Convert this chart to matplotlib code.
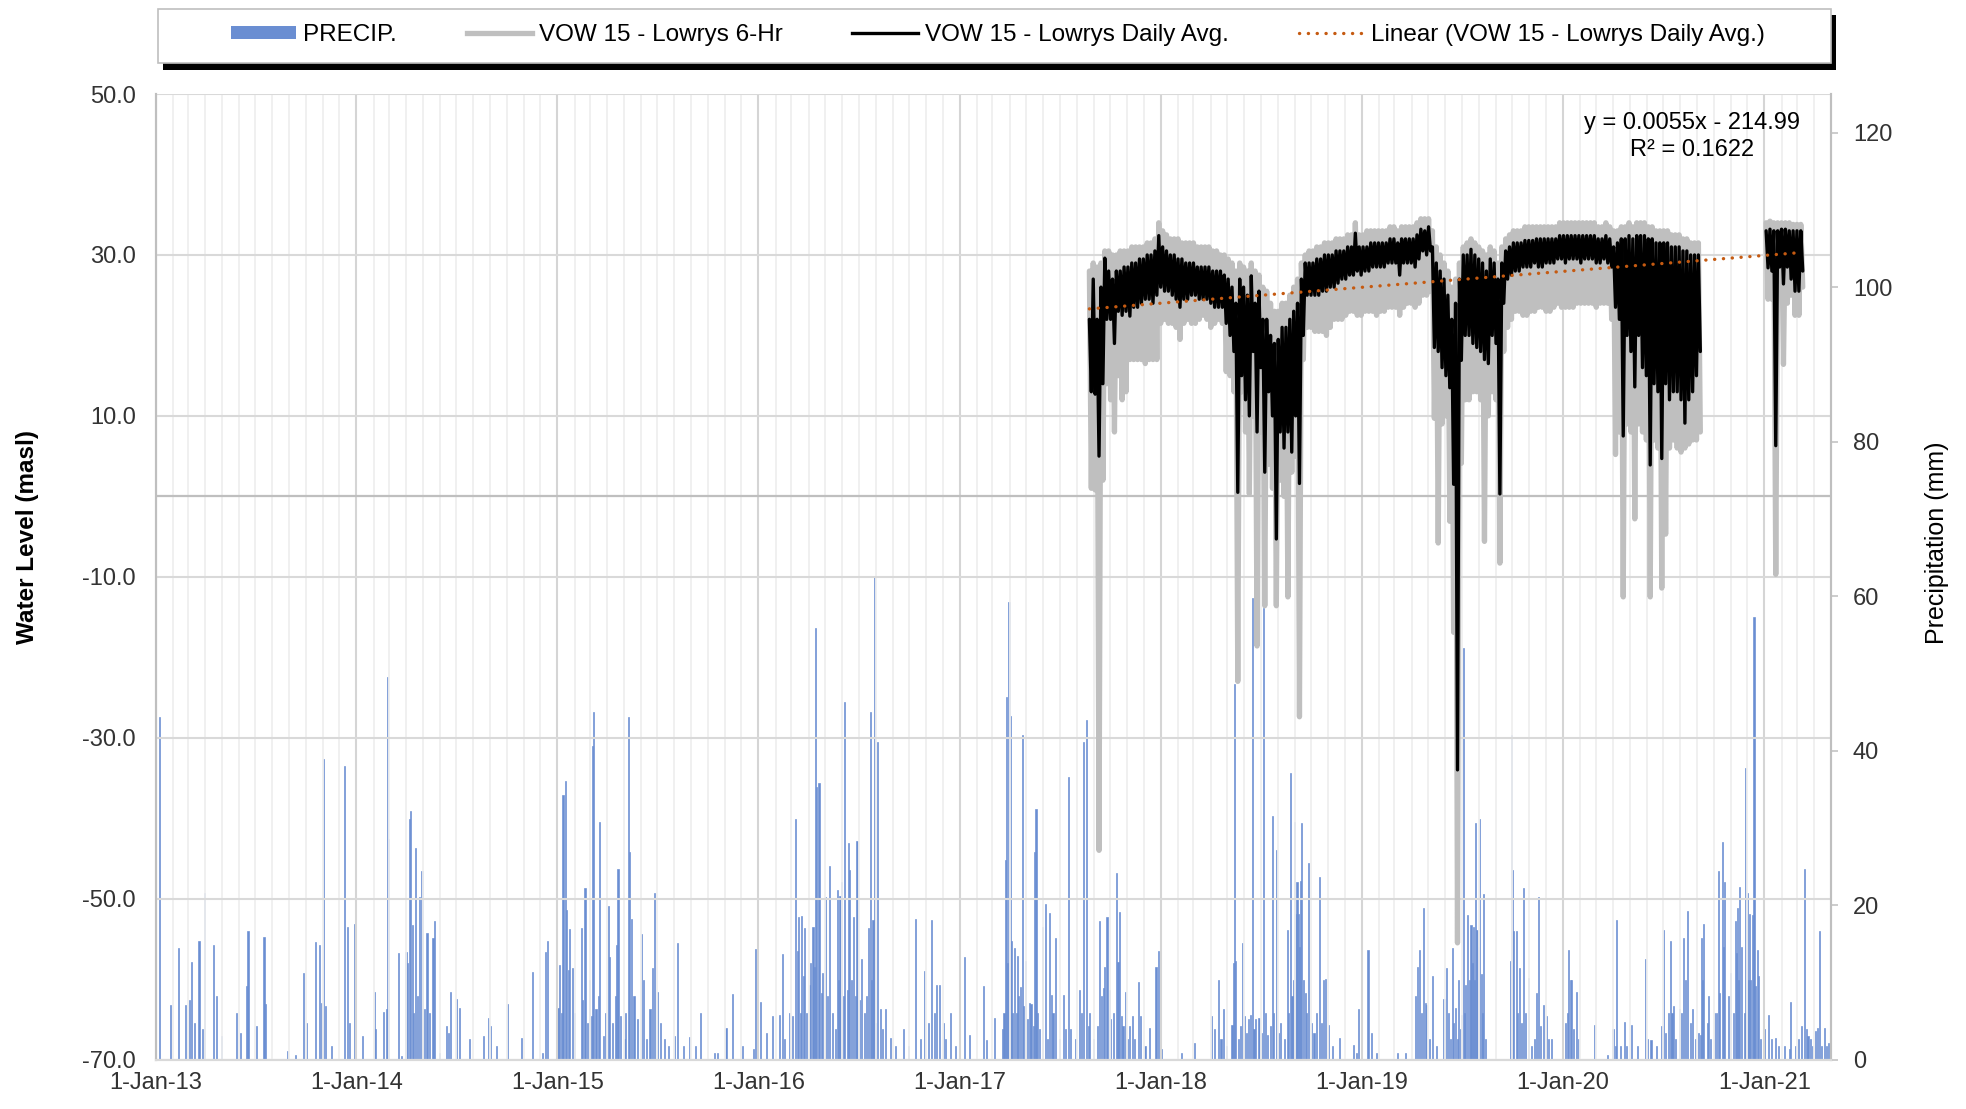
import matplotlib
matplotlib.use("Agg")
import matplotlib.pyplot as plt
import matplotlib.dates as mdates
from matplotlib.patches import Rectangle, Patch
from matplotlib.lines import Line2D
from matplotlib.ticker import FuncFormatter, FormatStrFormatter
import numpy as np
import pandas as pd

plt.rcParams['font.family'] = ['Liberation Sans', 'DejaVu Sans']

# ---- data ----
# precipitation: day number counted from 1-Jan-2013, daily total (mm)
precip_day = [
    8, 27, 42, 55, 61, 66, 71, 79, 85, 89, 105, 111, 120, 147, 154, 165, 168, 184, 197, 200,
    240, 255, 269, 274, 291, 298, 302, 305, 308, 319, 343, 348, 353, 361, 376, 397, 400, 414, 420, 422,
    423, 441, 446, 455, 458, 461, 463, 466, 469, 472, 476, 480, 484, 488, 493, 498, 504, 507, 515, 528,
    532, 535, 546, 552, 570, 596, 605, 609, 619, 639, 664, 685, 702, 709, 712, 731, 734, 737, 740, 744,
    747, 750, 752, 757, 761, 774, 776, 780, 785, 788, 791, 793, 796, 800, 804, 807, 813, 817, 822, 824,
    830, 835, 838, 840, 845, 851, 854, 859, 861, 864, 869, 875, 883, 886, 892, 898, 903, 907, 911, 917,
    924, 932, 942, 948, 959, 970, 980, 990, 1015, 1021, 1036, 1048, 1066, 1086, 1090, 1094, 1099, 1109, 1120, 1133,
    1138, 1143, 1151, 1157, 1162, 1166, 1168, 1171, 1173, 1176, 1179, 1182, 1187, 1190, 1194, 1196, 1199, 1201, 1205, 1209,
    1212, 1216, 1221, 1224, 1229, 1235, 1238, 1241, 1243, 1246, 1249, 1252, 1256, 1259, 1261, 1264, 1267, 1271, 1274, 1278,
    1282, 1287, 1291, 1295, 1298, 1300, 1303, 1306, 1308, 1311, 1316, 1320, 1326, 1334, 1344, 1358, 1368, 1381, 1389, 1397,
    1403, 1410, 1414, 1418, 1424, 1431, 1435, 1443, 1453,
    1470, 1478, 1503, 1509, 1523, 1538, 1541, 1543, 1546, 1548, 1550, 1552, 1555, 1557, 1560, 1563, 1565, 1568, 1571, 1574,
    1577, 1580, 1584, 1587, 1590, 1595, 1597, 1599, 1601, 1606, 1611, 1616, 1620, 1624, 1627, 1630, 1634, 1641, 1649, 1653,
    1658, 1662, 1670, 1678, 1682, 1686, 1691, 1694, 1697, 1703, 1710, 1715, 1718, 1721, 1724, 1728, 1732, 1735, 1740, 1745,
    1748, 1751, 1754, 1757, 1761, 1765, 1769, 1774, 1778, 1785, 1789, 1797, 1805, 1817, 1822, 1826, 1864, 1887, 1918, 1924,
    1930, 1935, 1939, 1945, 1955, 1958, 1960, 1962, 1966, 1971, 1974, 1977, 1982, 1985, 1988, 1992, 1995, 1997, 2004, 2008,
    2012, 2016, 2019, 2025, 2028, 2031, 2035, 2039, 2043, 2050, 2055, 2058, 2061, 2064, 2066, 2068, 2070, 2073, 2075, 2077,
    2080, 2082, 2085, 2088, 2091, 2094, 2099, 2104, 2108, 2114, 2117, 2121, 2124, 2130, 2138, 2151, 2175, 2181, 2185, 2202,
    2208, 2217, 2256, 2270, 2288, 2292, 2296, 2299, 2302, 2306, 2309, 2314, 2319, 2326, 2340, 2344, 2348, 2352, 2355, 2358,
    2361, 2364, 2367, 2370, 2372, 2375, 2377, 2379, 2382, 2386, 2389, 2391, 2393, 2395, 2397, 2400, 2402, 2404, 2408, 2410,
    2412, 2415, 2460, 2462, 2464, 2467, 2471, 2474, 2477, 2481, 2484, 2488, 2494, 2499, 2505, 2508, 2511, 2515, 2520, 2526,
    2530, 2535, 2561, 2564, 2566, 2569, 2571, 2576, 2580, 2584, 2613, 2637, 2647, 2651, 2654, 2660, 2667, 2672, 2681, 2692,
    2706, 2710, 2716, 2726, 2736, 2739, 2743, 2747, 2751, 2754, 2757, 2761, 2768, 2772, 2775, 2779, 2783, 2787, 2791, 2797,
    2802, 2806, 2808, 2810, 2812, 2818, 2821, 2824, 2832, 2835, 2838, 2841, 2846, 2848, 2850, 2856, 2861, 2865, 2869, 2871,
    2873, 2875, 2877, 2881, 2885, 2888, 2891, 2893, 2895, 2897, 2900, 2903, 2905, 2909, 2911, 2915, 2922, 2929, 2935, 2942,
    2947, 2958, 2967, 2970, 2978, 2984, 2989, 2994, 2998, 3001, 3006, 3010, 3015, 3018, 3022, 3026, 3031, 3035, 3039,
]
precip_mm = [
    44.3, 7.0, 14.4, 7.1, 7.7, 12.6, 4.7, 15.4, 3.9, 21.5, 14.8, 8.2, 3.0, 6.0, 3.4, 9.5, 16.7, 4.4, 15.8, 7.2,
    1.1, 0.6, 11.2, 4.7, 15.2, 14.8, 7.3, 38.9, 6.9, 1.7, 38.0, 17.2, 4.7, 17.6, 3.0, 8.8, 3.9, 6.2, 6.5, 49.5,
    28.6, 13.8, 0.4, 13.9, 12.5, 31.1, 32.2, 17.4, 6.0, 27.4, 8.2, 21.1, 24.4, 6.5, 16.4, 6.0, 15.7, 18.0, 0.9, 4.3,
    3.4, 8.8, 7.9, 6.7, 2.6, 3.0, 5.4, 4.3, 1.7, 7.2, 2.8, 11.3, 0.9, 13.9, 15.4, 6.7, 12.3, 6.0, 34.3, 36.1,
    19.4, 11.6, 16.9, 11.9, 6.0, 17.0, 7.7, 22.2, 4.7, 10.3, 5.6, 40.6, 45.0, 6.5, 8.2, 30.8, 3.0, 6.0, 19.9, 13.3,
    4.7, 8.2, 14.8, 24.7, 5.6, 2.6, 6.0, 44.3, 26.9, 18.2, 8.2, 5.2, 16.3, 10.3, 2.6, 6.5, 11.8, 21.5, 8.8, 4.7,
    2.6, 1.7, 3.0, 15.1, 1.7, 2.9, 1.7, 6.0, 0.9, 0.9, 4.1, 8.5, 1.7, 1.3, 14.3, 7.7, 7.5, 3.4, 5.6, 5.8,
    13.7, 2.6, 6.0, 5.6, 31.1, 14.0, 18.5, 6.0, 18.6, 10.8, 17.0, 6.0, 9.6, 12.5, 17.2, 12.0, 55.9, 35.3, 35.8, 8.6,
    11.2, 21.1, 8.2, 25.0, 6.0, 3.9, 21.9, 10.3, 21.2, 23.0, 8.2, 46.3, 9.0, 28.0, 24.6, 10.3, 18.5, 8.2, 28.3, 7.7,
    13.0, 6.0, 8.2, 17.0, 45.0, 10.3, 18.1, 62.5, 4.7, 41.1, 6.5, 3.9, 6.5, 2.8, 1.7, 3.9, 1.7, 18.2, 2.6, 11.4,
    4.7, 18.1, 6.0, 9.7, 9.7, 4.7, 2.6, 6.0, 1.7,
    13.3, 3.2, 9.5, 2.5, 5.4, 3.9, 6.0, 25.8, 46.9, 12.5, 59.3, 44.5, 15.3, 6.0, 14.4, 6.0, 13.4, 8.2, 9.4, 42.0,
    6.9, 12.8, 5.2, 7.3, 7.2, 4.3, 26.9, 32.5, 6.0, 3.9, 17.2, 20.2, 2.6, 19.0, 8.4, 6.0, 15.7, 2.6, 8.4, 3.9,
    36.6, 3.9, 2.6, 9.0, 6.0, 41.1, 43.9, 4.3, 6.0, 2.6, 4.3, 18.0, 8.2, 9.3, 12.0, 18.4, 9.0, 5.2, 6.0, 24.1,
    12.6, 19.1, 5.6, 4.3, 8.8, 2.6, 4.3, 5.6, 2.6, 10.1, 5.6, 1.7, 4.1, 12.0, 14.0, 1.3, 0.9, 2.2, 5.6, 3.9,
    10.3, 2.6, 6.5, 1.7, 4.5, 12.5, 48.6, 12.7, 2.6, 4.3, 15.1, 5.6, 3.4, 5.2, 5.8, 59.7, 3.9, 5.2, 5.4, 3.4,
    58.4, 6.0, 3.2, 4.3, 31.5, 6.0, 27.1, 3.4, 4.7, 2.6, 16.8, 6.0, 37.1, 8.2, 10.3, 30.8, 18.9, 23.0, 18.9, 14.6,
    23.1, 30.6, 10.3, 8.6, 6.0, 25.5, 4.7, 3.4, 6.0, 23.6, 4.7, 10.3, 10.4, 4.5, 1.7, 2.8, 1.9, 0.9, 6.5, 14.2,
    3.4, 0.9, 0.9, 0.9, 8.2, 12.0, 14.2, 6.0, 19.6, 7.3, 7.1, 2.6, 10.8, 1.7, 7.8, 11.8, 6.0, 2.6, 14.4, 4.7,
    6.7, 2.6, 10.3, 3.9, 5.8, 53.3, 6.0, 9.7, 18.7, 10.3, 17.4, 12.5, 17.2, 10.3, 30.6, 16.8, 14.6, 31.1, 11.1, 6.0,
    21.4, 2.6, 12.7, 42.0, 24.6, 16.6, 16.7, 6.0, 11.8, 4.7, 22.2, 6.0, 10.5, 1.7, 2.6, 8.6, 21.0, 4.3, 7.1, 5.6,
    2.6, 2.6, 4.7, 6.0, 14.2, 10.3, 10.3, 3.9, 8.7, 2.6, 4.5, 0.6, 4.0, 1.7, 18.1, 1.7, 4.9, 1.7, 4.5, 1.7,
    13.0, 2.6, 2.5, 1.7, 4.3, 16.8, 3.4, 6.0, 15.3, 6.0, 6.9, 2.6, 6.5, 6.0, 15.7, 10.3, 19.2, 4.7, 6.5, 2.6,
    3.4, 3.2, 15.7, 10.3, 17.6, 4.7, 8.2, 2.6, 6.0, 6.0, 24.4, 8.6, 28.1, 14.6, 23.0, 8.2, 11.2, 6.0, 17.9, 13.8,
    19.6, 10.3, 22.4, 14.6, 6.0, 37.7, 21.5, 10.3, 18.9, 10.3, 18.7, 57.3, 9.5, 14.2, 10.8, 2.6, 3.9, 5.8, 2.6, 2.8,
    1.7, 1.7, 1.3, 7.5, 1.7, 2.6, 4.3, 24.7, 3.9, 3.0, 2.6, 1.7, 3.7, 4.1, 16.6, 1.7, 4.1, 1.7, 2.2,
]

# water level, weekly from 24-Aug-2017 to end-Aug-2020 (masl):
# highest and lowest reading of each week for both traces
avg_top_a = [
    22, 27, 22, 26, 29.6, 28, 27, 28, 28, 28.5,
    28.5, 29, 29, 29.5, 29.5, 30, 30, 30.5, 32.4, 31,
    30.5, 30, 30, 29.5, 29.5, 29, 29, 29, 28.5, 28.5,
    28.5, 28.5, 28, 28, 28, 27.5, 27, 26, 24, 27,
    26, 25, 27.4, 24, 25.5, 22, 22, 20, 19, 19.5,
    21, 21, 22, 23, 24, 27, 29, 29, 29, 29.5,
    29.5, 30, 30, 30, 30.5, 30.5, 30.5, 31, 31, 32.7,
    31, 31, 31, 31.5, 31.5, 31.5, 31.5, 31.5, 32, 32,
    31.5, 32, 32, 32, 32, 32.5, 33.2, 33, 33.5, 31,
    29, 28, 27, 25, 22, 24, 27, 30, 30, 30.7,
    30, 29.5, 29, 28, 29.5, 29, 27, 29, 30.5, 31,
    31.5, 31.5, 31.5, 31.8, 31.8, 31.8, 32, 32, 32, 32,
    32, 32, 32.4, 32.4, 32.4, 32.4, 32.4, 32.4, 32.4, 32.4,
    32.4, 32.4, 32, 32, 32.4, 32, 31, 31.5, 32, 32,
    32.4, 32, 32.4, 32.4, 32.4, 32, 32, 31.5, 31.5, 31.5,
    31.5, 31, 31, 31, 30.5, 30.5, 30, 30, 30,
]
avg_bottom_a = [
    13, 12.7, 5, 14, 22, 22, 19, 23, 22.5, 23,
    22.4, 23.5, 23.5, 24, 24.5, 24.5, 24, 25, 26, 25.5,
    25.5, 25, 24.5, 23.5, 24.5, 24.5, 25, 25, 24.5, 24.5,
    24.5, 24, 23.5, 23.5, 23.5, 21.5, 20, 18, 0.5, 15,
    12, 10, 18, 8, 16, 3, 13, 10, -5.3, 8,
    6, 8, 5.5, 10, 1.6, 20, 25, 25, 25, 25,
    25.5, 25.5, 26, 26, 26.5, 27, 27, 27.5, 27.5, 28,
    27.5, 28, 28, 28.5, 28.5, 28.5, 28.5, 29, 29, 29,
    27.5, 29, 29, 29, 28.5, 29.5, 30.5, 30, 30.5, 18.5,
    18, 16, 15, 13.5, 1.5, -34, 16.9, 20, 20, 19,
    18.5, 18, 17, 16.5, 20, 19, 0.3, 24, 27, 27.5,
    28, 28, 28.5, 28.5, 28.5, 29, 28.5, 28.5, 29, 29,
    29, 29.5, 29.5, 29, 29.5, 29.5, 29.5, 29, 29.5, 29.5,
    29.5, 29, 29, 29.5, 29, 28.5, 23.5, 22, 7.5, 20,
    18, 13.6, 20, 16, 15, 3.9, 14, 13, 4.7, 14,
    12, 13, 13, 12, 9.1, 12, 13, 15, 18,
]
six_hr_top_a = [
    28, 29, 28.5, 29, 30.5, 30.5, 30, 30, 30.5, 30.5,
    30.5, 31, 31, 31, 31, 31.5, 31.5, 32, 34, 33,
    32.5, 32, 32, 32, 31.5, 31.5, 31.5, 31.5, 31, 31,
    31, 31, 30.5, 30.5, 30, 30, 29.5, 29, 28, 29,
    28.5, 28, 29, 28, 27.5, 26, 25.5, 24, 23, 23,
    24, 24, 25, 26, 27, 29, 30, 30.5, 30.5, 31,
    31, 31.5, 31.5, 31.5, 32, 32, 32, 32.5, 32.5, 34,
    32.5, 32.5, 33, 33, 33, 33, 33, 33, 33.5, 33.5,
    33, 33.5, 33.5, 33.5, 33.5, 34, 34.5, 34.5, 34.5, 33,
    31, 30, 29, 28, 26, 27, 29, 31, 31.5, 32,
    31.5, 31, 30.5, 30, 31, 30.5, 29, 31, 32, 32.5,
    33, 33, 33, 33.5, 33.5, 33.5, 33.5, 33.5, 33.5, 33.5,
    33.5, 33.5, 34, 34, 34, 34, 34, 34, 34, 34,
    34, 34, 33.5, 33.5, 34, 33.5, 33, 33, 33.5, 33.5,
    34, 33.5, 34, 34, 34, 33.5, 33.5, 33, 33, 33,
    33, 32.5, 32.5, 32.5, 32, 32, 31.5, 31.5, 31.5,
]
six_hr_bottom_a = [
    1, 0.8, -44, 2, 14, 12, 8, 15, 12, 13,
    17, 17, 17, 17, 16.5, 17, 17, 17, 21.5, 22,
    21.5, 21.5, 21, 19.5, 21.5, 22, 21.5, 21.5, 22, 22.5,
    22, 21, 21.5, 22, 21.5, 15.5, 15, 13, -23, 13,
    8, 0.3, 10, -18.6, 8, -13.6, 4, 1, -13.6, 2,
    0, -12.5, 3, 5, -27.4, 17, 21, 21, 20.5, 20.5,
    20.5, 20, 21, 22, 22, 22, 22.5, 23, 23, 22.5,
    22.5, 23, 23, 23, 22.5, 23, 23, 23.5, 23.5, 23.5,
    22.5, 23.5, 24, 24, 23.5, 24, 25, 25, 25.5, 9.7,
    -5.8, 9, 10, -3.1, -16.9, -55.5, 4.1, 12, 12, 13,
    13, 12, -5.6, 10, 13, 12, -8.3, 18, 21, 22,
    23, 23, 22.5, 22.5, 23, 23, 23.5, 23.5, 23, 23,
    23.5, 24, 23.5, 23.5, 23.5, 23.5, 24, 24, 24, 24,
    24, 23.5, 24, 24, 24, 22, 5.2, 8, -12.5, 9,
    8, -2.8, 9, 8, 7, -12.5, 7, 6, -11.4, -4.7,
    6, 7, 6, 5.5, 6, 6.5, 7, 7, 8,
]
# second logger period, weekly from 4-Jan-2021
avg_top_b = [33, 33.2, 33, 33, 33.2, 33.2, 33, 33, 33, 33]
avg_bottom_b = [28.4, 28, 6.3, 28.5, 26.4, 28.5, 27, 25.5, 25.5, 28]
six_hr_top_b = [34, 34.2, 34, 34, 34, 34, 34, 33.8, 33.8, 33.8]
six_hr_bottom_b = [24.5, 24.5, -9.7, 25, 16.4, 24, 25, 22.5, 22.5, 26]

# Excel linear trendline end points (daily avg)
trend_dates = ['2017-08-24', '2021-03-08']
trend_values = [23.3, 30.3]


def weekly_trace(start, highs, lows):
    # each week: the high reading at the start, the low reading half a week later
    week = pd.date_range(start, periods=len(highs), freq='7D').to_numpy()
    x = np.empty(2 * len(highs), dtype='datetime64[ns]')
    x[0::2] = week
    x[1::2] = week + np.timedelta64(84, 'h')
    y = np.empty(2 * len(highs))
    y[0::2] = highs
    y[1::2] = lows
    return x, y


record_start = pd.Timestamp('2013-01-01')
precip_dates = (record_start + pd.to_timedelta(precip_day, unit='D')).to_numpy()
trend_x = pd.to_datetime(trend_dates).to_numpy()

BLUE = '#6A8ED2'
GRAY = '#BFBFBF'
ORANGE = '#C55A11'
TXT = '#333333'

fig = plt.figure(figsize=(19.66, 11.09), dpi=100)
ax = fig.add_axes([0.0791, 0.0446, 0.852, 0.8706])
ax2 = ax.twinx()
ax.set_zorder(ax2.get_zorder() + 1)
ax.patch.set_visible(False)

ax2.bar(precip_dates, precip_mm, width=2.0, color=BLUE, edgecolor=BLUE, linewidth=0.45)

dotted = (0, (0.05, 2.6))
for start, hi, lo in [('2017-08-24', six_hr_top_a, six_hr_bottom_a),
                      ('2021-01-04', six_hr_top_b, six_hr_bottom_b)]:
    x, y = weekly_trace(start, hi, lo)
    ax.plot(x, y, color=GRAY, lw=3.8, solid_joinstyle='round', solid_capstyle='round', zorder=3)
for start, hi, lo in [('2017-08-24', avg_top_a, avg_bottom_a),
                      ('2021-01-04', avg_top_b, avg_bottom_b)]:
    x, y = weekly_trace(start, hi, lo)
    ax.plot(x, y, color='black', lw=2.4, solid_joinstyle='round', solid_capstyle='round', zorder=4)
ax.plot(trend_x, trend_values, color=ORANGE, lw=2.4, linestyle=dotted,
        dash_capstyle='round', zorder=5)

ax.axhline(0, color='#BFBFBF', lw=1.6, zorder=2)

# axes / scales
ax.set_xlim(pd.Timestamp('2013-01-01'), pd.Timestamp('2021-05-01'))
ax.set_ylim(-70, 50)
ax2.set_ylim(0, 125)
ax.set_yticks(np.arange(-70, 51, 20))
ax.yaxis.set_major_formatter(FormatStrFormatter('%.1f'))
ax2.set_yticks(np.arange(0, 121, 20))

ax.xaxis.set_major_locator(mdates.YearLocator())
ax.xaxis.set_minor_locator(mdates.MonthLocator())
ax.xaxis.set_major_formatter(FuncFormatter(
    lambda x, pos: f"{mdates.num2date(x).day}-{mdates.num2date(x):%b-%y}"))

ax.set_axisbelow(True)
ax.grid(which='major', axis='x', color='#D5D5D5', lw=1.5)
ax.grid(which='minor', axis='x', color='#EFEFEF', lw=1.3)
ax.grid(which='major', axis='y', color='#D9D9D9', lw=1.5)

for a in (ax, ax2):
    a.spines['top'].set_visible(False)
    a.spines['left'].set_color(GRAY)
    a.spines['right'].set_color(GRAY)
    a.spines['bottom'].set_color('#D9D9D9')
    for s in ('left', 'right', 'bottom'):
        a.spines[s].set_linewidth(1.5)

ax.tick_params(axis='y', which='both', length=0, pad=14, labelsize=17, labelcolor=TXT)
ax.tick_params(axis='x', which='both', length=0, pad=9, labelsize=17, labelcolor=TXT)
ax2.tick_params(axis='y', length=5, width=1.1, color=GRAY, direction='out', pad=11,
                labelsize=17, labelcolor=TXT)

fig.text(0.0142, 0.5158, 'Water Level (masl)', rotation=90, ha='center', va='center',
         fontsize=17.5, fontweight='bold', color='black')
fig.text(0.9853, 0.5104, 'Precipitation (mm)', rotation=90, ha='center', va='center',
         fontsize=18, color='black')

# trendline equation
fig.text(0.8606, 0.8891, 'y = 0.0055x - 214.99', ha='center', va='center', fontsize=17, color='black')
fig.text(0.8606, 0.8643, 'R² = 0.1622', ha='center', va='center', fontsize=17, color='black')

# legend box with black drop shadow
fig.patches.append(Rectangle((163 / 1966, 1 - 70 / 1109), (1836 - 163) / 1966, (70 - 15) / 1109,
                             transform=fig.transFigure, facecolor='black', edgecolor='none', zorder=1))
fig.patches.append(Rectangle((158 / 1966, 1 - 63 / 1109), (1831 - 158) / 1966, (63 - 9) / 1109,
                             transform=fig.transFigure, facecolor='white', edgecolor=GRAY,
                             lw=1.2, zorder=2))
handles = [
    Patch(facecolor=BLUE, edgecolor='none'),
    Line2D([], [], color=GRAY, lw=3.8),
    Line2D([], [], color='black', lw=2.4),
    Line2D([], [], color=ORANGE, lw=2.4, linestyle=dotted, dash_capstyle='round'),
]
labels = ['PRECIP.', 'VOW 15 - Lowrys 6-Hr', 'VOW 15 - Lowrys Daily Avg.',
          'Linear (VOW 15 - Lowrys Daily Avg.)']
leg = fig.legend(handles, labels, loc='center', bbox_to_anchor=(0.5076, 0.9684), ncol=4,
                 frameon=False, fontsize=17.5, handlelength=2.7, handletextpad=0.3,
                 columnspacing=2.85, handleheight=0.45)
leg.set_zorder(5)

fig.savefig('out.png', dpi=100)
